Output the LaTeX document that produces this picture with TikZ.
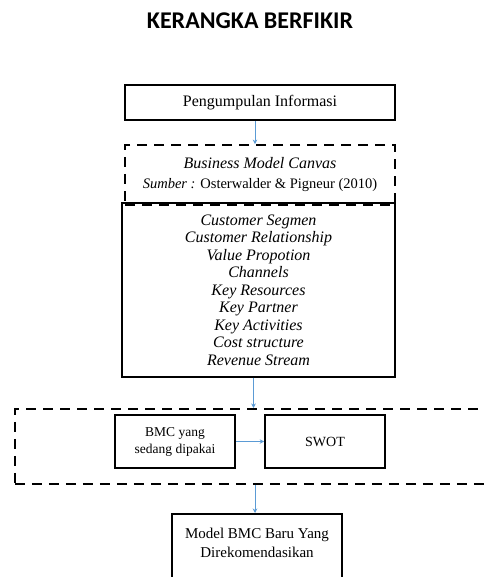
\documentclass[tikz,border=0pt]{standalone}
\usepackage{fontspec}
\setmainfont{Liberation Serif}
\newfontfamily\titlefont{Carlito}
\usetikzlibrary{arrows.meta,positioning}
\definecolor{panahbiru}{RGB}{91,155,213}

\begin{document}
\begin{tikzpicture}[x=1pt,y=-1pt,
  kotak/.style={draw,line width=1.6pt,inner sep=0pt,align=center,font=\fontsize{16}{19}\selectfont},
  putus/.style={draw,line width=1.8pt,dash pattern=on 10pt off 7pt,inner sep=0pt,align=center},
  panah/.style={-{Stealth[length=4.5pt,width=4.5pt]},draw=panahbiru,line width=0.9pt}]
\clip (0,0) rectangle (484,577);
\fill[white] (0,0) rectangle (484,577);

\node (judul) at (250,21) {\titlefont\bfseries\fontsize{24}{28}\selectfont KERANGKA BERFIKIR};

\node[kotak,minimum width=270,minimum height=35] (info) at (260,102.5) {Pengumpulan Informasi};
\node[putus,minimum width=270,minimum height=60,font=\fontsize{14.5}{20}\selectfont] (bmc) at (260,175)
  {\textit{\fontsize{16}{20}\selectfont Business Model Canvas}\\ \textit{Sumber :} Osterwalder \& Pigneur (2010)};
\node[kotak,line width=1.3pt,minimum width=273,minimum height=174,font=\itshape\fontsize{16}{17.5}\selectfont] (elemen) at (258.5,290)
  {Customer Segmen\\ Customer Relationship\\ Value Propotion\\ Channels\\ Key Resources\\ Key Partner\\ Key Activities\\ Cost structure\\ Revenue Stream};

% kelompok analisis
\node[putus,anchor=north west,minimum width=500,minimum height=75] (analisis) at (14,408) {};
\node[kotak,minimum width=120,minimum height=53,font=\fontsize{13.5}{17}\selectfont] (lama) at (175,441.5) {BMC yang\\ sedang dipakai};
\node[kotak,minimum width=120,minimum height=53,font=\fontsize{14}{17}\selectfont] (swot) at (325,441.5) {SWOT};

\node[kotak,anchor=north,minimum width=170,minimum height=90] (baru) at (257,513) {};
\node[align=center,font=\fontsize{15}{19}\selectfont] (barutxt) at ([yshift=-30]baru.north) {Model BMC Baru Yang\\ Direkomendasikan};

\draw[panah] ([xshift=-5]info.south) -- ([xshift=-5]info.south |- bmc.north);
\draw[panah] ([xshift=-5]elemen.south) -- ([xshift=-5]elemen.south |- analisis.north);
\draw[panah] (lama) -- (swot);
\draw[panah] ([xshift=-2]baru.north |- analisis.south) -- ([xshift=-2]baru.north);
\end{tikzpicture}
\end{document}
